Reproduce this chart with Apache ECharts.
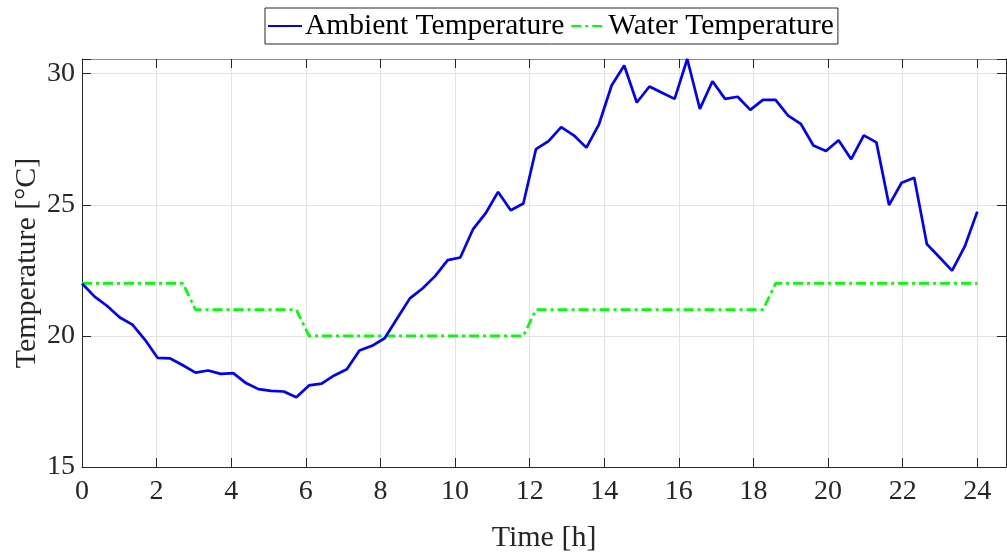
<!DOCTYPE html>
<html>
<head>
<meta charset="utf-8">
<title>Ambient and Water Temperature</title>
<script src="https://cdn.jsdelivr.net/npm/echarts@6/dist/echarts.min.js"></script>
<style>
  html, body { margin: 0; padding: 0; background: #ffffff; }
  #chart { width: 1007px; height: 552px; }
</style>
</head>
<body>
<div id="chart"></div>
<script>
// Time samples over one day [h]
const timeHours = [
  0, 0.338, 0.676, 1.014, 1.352, 1.690, 2.028, 2.366, 2.704, 3.042,
  3.380, 3.718, 4.056, 4.394, 4.732, 5.070, 5.408, 5.746, 6.085, 6.423,
  6.761, 7.099, 7.437, 7.775, 8.113, 8.451, 8.789, 9.127, 9.465, 9.803,
  10.141, 10.479, 10.817, 11.155, 11.493, 11.831, 12.169, 12.507, 12.845, 13.183,
  13.521, 13.859, 14.197, 14.535, 14.873, 15.211, 15.549, 15.887, 16.225, 16.563,
  16.901, 17.239, 17.577, 17.915, 18.254, 18.592, 18.930, 19.268, 19.606, 19.944,
  20.282, 20.620, 20.958, 21.296, 21.634, 21.972, 22.310, 22.648, 22.986, 23.324,
  23.662, 24
];

// Ambient air temperature [°C]
const ambientTemp = [
  22.0, 21.5, 21.14, 20.7, 20.43, 19.85, 19.16, 19.14, 18.88, 18.6,
  18.68, 18.55, 18.58, 18.2, 17.97, 17.9, 17.88, 17.66, 18.11, 18.18,
  18.49, 18.73, 19.44, 19.62, 19.91, 20.67, 21.43, 21.81, 22.28, 22.89,
  22.99, 24.06, 24.67, 25.49, 24.79, 25.05, 27.12, 27.43, 27.96, 27.65,
  27.18, 28.07, 29.55, 30.31, 28.9, 29.51, 29.27, 29.04, 30.56, 28.66,
  29.71, 29.04, 29.12, 28.62, 29.0, 29.0, 28.4, 28.09, 27.26, 27.05,
  27.46, 26.74, 27.65, 27.38, 24.99, 25.84, 26.03, 23.5, 23.0, 22.49,
  23.4, 24.74
];

// Water temperature set points [°C]
const waterTemp = [
  22, 22, 22, 22, 22, 22, 22, 22, 22,
  21, 21, 21, 21, 21, 21, 21, 21, 21,
  20, 20, 20, 20, 20, 20, 20, 20, 20, 20, 20, 20, 20, 20, 20, 20, 20, 20,
  21, 21, 21, 21, 21, 21, 21, 21, 21, 21, 21, 21, 21, 21, 21, 21, 21, 21, 21,
  22, 22, 22, 22, 22, 22, 22, 22, 22, 22, 22, 22, 22, 22, 22, 22, 22
];

const xTicks = [0, 2, 4, 6, 8, 10, 12, 14, 16, 18, 20, 22, 24];
const yTicks = [15, 20, 25, 30];

const FONT = '"Liberation Serif", "DejaVu Serif", serif';
const AXIS_COLOR = '#262626';
const GRID_COLOR = '#e3e3e3';

const xMin = 0, xMax = 24.77;
const yMin = 15, yMax = 30.56;

const pair = (xs, ys) => xs.map((x, i) => [x, ys[i]]);

const chart = echarts.init(document.getElementById('chart'), null, { renderer: 'canvas' });

const option = {
  backgroundColor: '#ffffff',
  animation: false,
  textStyle: { fontFamily: FONT, color: '#262626' },
  grid: {
    left: 82, top: 59, right: 1, bottom: 85,
    containLabel: false,
    outerBoundsMode: 'none'
  },
  legend: {
    left: 265,
    top: 8,
    orient: 'horizontal',
    backgroundColor: '#ffffff',
    borderColor: '#262626',
    borderWidth: 1,
    borderRadius: 0,
    padding: [3, 4, 3, 2],
    itemGap: 6,
    itemWidth: 34,
    itemHeight: 12,
    itemStyle: { opacity: 0 },
    textStyle: { fontFamily: FONT, fontSize: 29.5, color: '#000000', padding: [0, 0, 0, -2] },
    data: ['Ambient Temperature', 'Water Temperature']
  },
  xAxis: [
    {
      type: 'value',
      min: xMin,
      max: xMax,
      interval: 2,
      name: 'Time [h]',
      nameLocation: 'middle',
      nameGap: 56,
      nameMoveOverlap: false,
      nameTextStyle: { fontFamily: FONT, fontSize: 30, color: '#262626' },
      axisLine: { show: true, onZero: false, lineStyle: { color: AXIS_COLOR, width: 1 } },
      axisTick: { show: true, inside: true, length: 9, lineStyle: { color: AXIS_COLOR } },
      axisLabel: {
        margin: 11,
        fontFamily: FONT,
        fontSize: 28,
        color: '#262626',
        formatter: v => (xTicks.indexOf(v) >= 0 ? String(v) : '')
      },
      splitLine: { show: true, lineStyle: { color: GRID_COLOR, width: 1 } }
    },
    {
      type: 'value',
      position: 'top',
      min: xMin,
      max: xMax,
      interval: 2,
      axisLine: { show: true, onZero: false, lineStyle: { color: '#8c8c8c', width: 1 } },
      axisTick: { show: true, inside: true, length: 9, lineStyle: { color: AXIS_COLOR } },
      axisLabel: { show: false },
      splitLine: { show: false }
    }
  ],
  yAxis: [
    {
      type: 'value',
      min: yMin,
      max: yMax,
      interval: 5,
      name: 'Temperature [°C]',
      nameLocation: 'middle',
      nameGap: 40,
      nameMoveOverlap: false,
      nameTextStyle: { fontFamily: FONT, fontSize: 30, color: '#262626' },
      axisLine: { show: true, onZero: false, lineStyle: { color: AXIS_COLOR, width: 1 } },
      axisTick: { show: true, inside: true, length: 9, lineStyle: { color: AXIS_COLOR } },
      axisLabel: {
        margin: 7,
        fontFamily: FONT,
        fontSize: 28,
        color: '#262626',
        formatter: v => (yTicks.indexOf(v) >= 0 ? String(v) : '')
      },
      splitLine: { show: true, lineStyle: { color: GRID_COLOR, width: 1 } }
    },
    {
      type: 'value',
      position: 'right',
      min: yMin,
      max: yMax,
      interval: 5,
      axisLine: { show: true, onZero: false, lineStyle: { color: AXIS_COLOR, width: 1 } },
      axisTick: { show: true, inside: true, length: 9, lineStyle: { color: AXIS_COLOR } },
      axisLabel: { show: false },
      splitLine: { show: false }
    }
  ],
  series: [
    {
      name: 'Ambient Temperature',
      type: 'line',
      xAxisIndex: 0,
      yAxisIndex: 0,
      data: pair(timeHours, ambientTemp),
      showSymbol: false,
      symbol: 'none',
      clip: false,
      lineStyle: { color: '#0000ff', width: 2.7 },
      itemStyle: { color: '#0000ff' },
      z: 3
    },
    {
      name: 'Water Temperature',
      type: 'line',
      xAxisIndex: 0,
      yAxisIndex: 0,
      data: pair(timeHours, waterTemp),
      showSymbol: false,
      symbol: 'none',
      lineStyle: { color: '#00ff00', width: 2.7, type: [10, 4, 3, 4] },
      itemStyle: { color: '#00ff00' },
      z: 2
    }
  ]
};

chart.setOption(option);
</script>
</body>
</html>
